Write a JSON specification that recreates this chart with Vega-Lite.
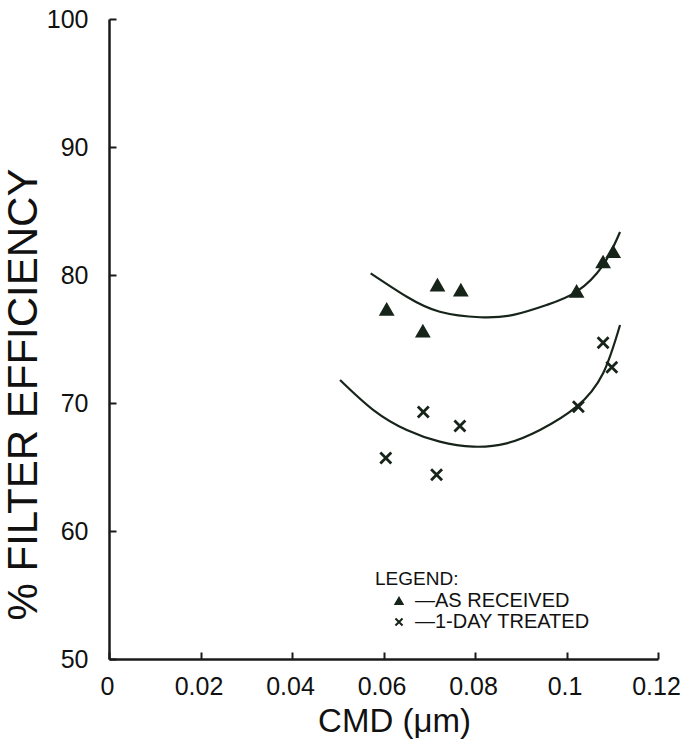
{
  "$schema": "https://vega.github.io/schema/vega-lite/v6.json",
  "width": 549,
  "height": 640,
  "autosize": {"type": "none"},
  "padding": {"left": 109, "top": 19, "right": 24, "bottom": 81},
  "background": "white",
  "config": {
    "view": {"stroke": null},
    "font": "Liberation Sans",
    "axis": {
      "domainColor": "#1a1a1a",
      "domainWidth": 2.5,
      "tickColor": "#1a1a1a",
      "tickWidth": 2,
      "tickSize": -7,
      "grid": false,
      "labelFlush": false,
      "labelFont": "Liberation Sans",
      "labelFontSize": 25,
      "labelColor": "#111",
      "titleFont": "Liberation Sans",
      "titleFontWeight": "normal",
      "titleColor": "#111"
    }
  },
  "datasets": {
    "pts": [
      {"cmd": 0.0607, "eff": 77.3, "series": "—AS RECEIVED"},
      {"cmd": 0.0686, "eff": 75.6, "series": "—AS RECEIVED"},
      {"cmd": 0.0718, "eff": 79.2, "series": "—AS RECEIVED"},
      {"cmd": 0.0769, "eff": 78.8, "series": "—AS RECEIVED"},
      {"cmd": 0.1022, "eff": 78.7, "series": "—AS RECEIVED"},
      {"cmd": 0.108, "eff": 81.0, "series": "—AS RECEIVED"},
      {"cmd": 0.1102, "eff": 81.8, "series": "—AS RECEIVED"},
      {"cmd": 0.0605, "eff": 65.7, "series": "—1-DAY TREATED"},
      {"cmd": 0.0687, "eff": 69.3, "series": "—1-DAY TREATED"},
      {"cmd": 0.0716, "eff": 64.4, "series": "—1-DAY TREATED"},
      {"cmd": 0.0767, "eff": 68.2, "series": "—1-DAY TREATED"},
      {"cmd": 0.1026, "eff": 69.7, "series": "—1-DAY TREATED"},
      {"cmd": 0.108, "eff": 74.7, "series": "—1-DAY TREATED"},
      {"cmd": 0.1099, "eff": 72.8, "series": "—1-DAY TREATED"}
    ],
    "fit": [
      {"cmd": 0.0572, "eff": 80.13, "curve": "a"},
      {"cmd": 0.0651, "eff": 78.3, "curve": "a"},
      {"cmd": 0.0723, "eff": 77.13, "curve": "a"},
      {"cmd": 0.0811, "eff": 76.7, "curve": "a"},
      {"cmd": 0.0884, "eff": 76.88, "curve": "a"},
      {"cmd": 0.0957, "eff": 77.66, "curve": "a"},
      {"cmd": 0.1022, "eff": 78.7, "curve": "a"},
      {"cmd": 0.108, "eff": 80.78, "curve": "a"},
      {"cmd": 0.1117, "eff": 83.36, "curve": "a"},
      {"cmd": 0.0505, "eff": 71.8, "curve": "b"},
      {"cmd": 0.0578, "eff": 69.45, "curve": "b"},
      {"cmd": 0.0651, "eff": 67.89, "curve": "b"},
      {"cmd": 0.0723, "eff": 66.98, "curve": "b"},
      {"cmd": 0.0796, "eff": 66.59, "curve": "b"},
      {"cmd": 0.0869, "eff": 66.85, "curve": "b"},
      {"cmd": 0.0942, "eff": 67.89, "curve": "b"},
      {"cmd": 0.1022, "eff": 69.71, "curve": "b"},
      {"cmd": 0.108, "eff": 72.32, "curve": "b"},
      {"cmd": 0.1117, "eff": 76.09, "curve": "b"}
    ]
  },
  "encoding": {
    "x": {
      "field": "cmd",
      "type": "quantitative",
      "scale": {"domain": [0, 0.12], "nice": false, "zero": false},
      "axis": {
        "values": [0, 0.02, 0.04, 0.06, 0.08, 0.1, 0.12],
        "format": ".2~f",
        "labelPadding": 22,
        "labelOffset": -2,
        "title": "CMD (μm)",
        "titleFontSize": 33,
        "titleX": 285,
        "titleY": 62,
        "titleBaseline": "middle",
        "titleAlign": "center"
      }
    },
    "y": {
      "field": "eff",
      "type": "quantitative",
      "scale": {"domain": [50, 100], "nice": false, "zero": false},
      "axis": {
        "values": [50, 60, 70, 80, 90, 100],
        "labelPadding": 28,
        "title": "% FILTER EFFICIENCY",
        "titleFontSize": 42,
        "titleAngle": -90,
        "titleX": -86,
        "titleY": 375,
        "titleBaseline": "middle",
        "titleAlign": "center"
      }
    }
  },
  "layer": [
    {
      "data": {"name": "fit"},
      "mark": {"type": "line", "interpolate": "natural", "color": "#17241a", "strokeWidth": 2.2},
      "encoding": {"detail": {"field": "curve"}}
    },
    {
      "data": {"name": "pts"},
      "mark": {"type": "point", "filled": true, "fill": "#17241a", "stroke": "#17241a", "strokeWidth": 2.8, "size": 120, "opacity": 1},
      "encoding": {
        "shape": {
          "field": "series",
          "type": "nominal",
          "scale": {
            "domain": ["—AS RECEIVED", "—1-DAY TREATED"],
            "range": ["triangle-up", "M-1,-1L1,1M-1,1L1,-1"]
          },
          "legend": {
            "orient": "none",
            "legendX": 266,
            "legendY": 551,
            "title": "LEGEND:",
            "titleFontSize": 19,
            "titleFontWeight": "normal",
            "titleColor": "#111",
            "titlePadding": 2,
            "labelFontSize": 20,
            "labelLimit": 0,
            "labelColor": "#111",
            "symbolOffset": 14,
            "labelOffset": 6,
            "symbolSize": 50,
            "symbolStrokeWidth": 2,
            "rowPadding": 1,
            "padding": 0
          }
        }
      }
    }
  ]
}
